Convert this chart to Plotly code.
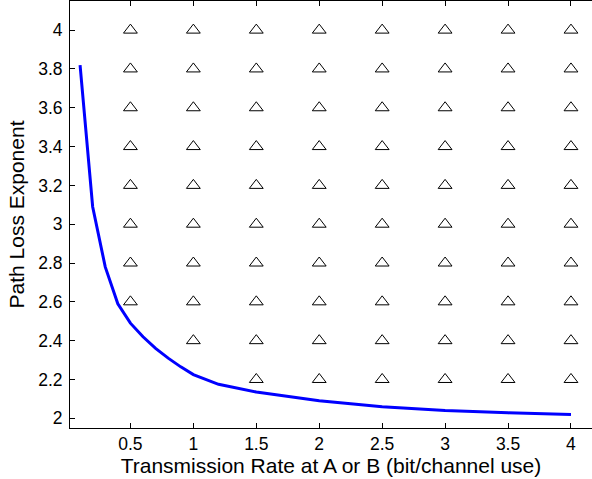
import plotly.graph_objects as go

# Curve: path loss exponent threshold vs transmission rate
rate = [0.1, 0.2, 0.3, 0.4, 0.5, 0.6, 0.7, 0.8, 0.9, 1.0, 1.2, 1.5, 2.0, 2.5, 3.0, 3.5, 4.0]
alpha = [3.82, 3.09, 2.78, 2.59, 2.49, 2.42, 2.36, 2.31, 2.265, 2.225, 2.175, 2.135, 2.09, 2.06, 2.04, 2.028, 2.02]

# Triangle grid points
grid_x_vals = [0.5, 1.0, 1.5, 2.0, 2.5, 3.0, 3.5, 4.0]
grid_y_vals = [2.2, 2.4, 2.6, 2.8, 3.0, 3.2, 3.4, 3.6, 3.8, 4.0]
col_min_y = [2.6, 2.4, 2.2, 2.2, 2.2, 2.2, 2.2, 2.2]

x_ticks = [0.5, 1, 1.5, 2, 2.5, 3, 3.5, 4]
x_tick_text = ["0.5", "1", "1.5", "2", "2.5", "3", "3.5", "4"]
y_ticks = [2, 2.2, 2.4, 2.6, 2.8, 3, 3.2, 3.4, 3.6, 3.8, 4]
y_tick_text = ["2", "2.2", "2.4", "2.6", "2.8", "3", "3.2", "3.4", "3.6", "3.8", "4"]

tx, ty = [], []
for gx, ymin in zip(grid_x_vals, col_min_y):
    for gy in grid_y_vals:
        if gy >= ymin - 1e-9:
            tx.append(gx)
            ty.append(gy)

fig = go.Figure()
fig.add_trace(go.Scatter(x=tx, y=ty, mode="markers",
                         marker=dict(symbol="triangle-up-open", size=12, color="black",
                                     line=dict(width=1, color="black")),
                         showlegend=False, hoverinfo="skip"))
fig.add_trace(go.Scatter(x=rate, y=alpha, mode="lines",
                         line=dict(color="#0000FF", width=3),
                         showlegend=False))

font = dict(family="Arial, Liberation Sans, sans-serif", size=17.5, color="black")
tick_font = dict(family="Arial, Liberation Sans, sans-serif", size=17.5, color="black")
fig.update_layout(
    width=592, height=479,
    margin=dict(l=70, r=0, t=1, b=51),
    paper_bgcolor="white", plot_bgcolor="white",
    font=font,
    xaxis=dict(range=[0.02, 4.167], tickvals=x_ticks, ticktext=x_tick_text,
               ticks="inside", ticklen=5, tickcolor="black",
               showline=True, linecolor="black", linewidth=1, mirror="ticks",
               showgrid=False, zeroline=False,
               title=dict(text="Transmission Rate at A or B (bit/channel use)", standoff=0),
               tickfont=tick_font),
    yaxis=dict(range=[1.95, 4.15], tickvals=y_ticks, ticktext=y_tick_text,
               ticks="inside", ticklen=5, tickcolor="black",
               showline=True, linecolor="black", linewidth=1, mirror=False,
               showgrid=False, zeroline=False, ticklabelstandoff=3,
               title=dict(text="Path Loss Exponent", standoff=7),
               tickfont=tick_font),
)
fig.write_html("out.html")
